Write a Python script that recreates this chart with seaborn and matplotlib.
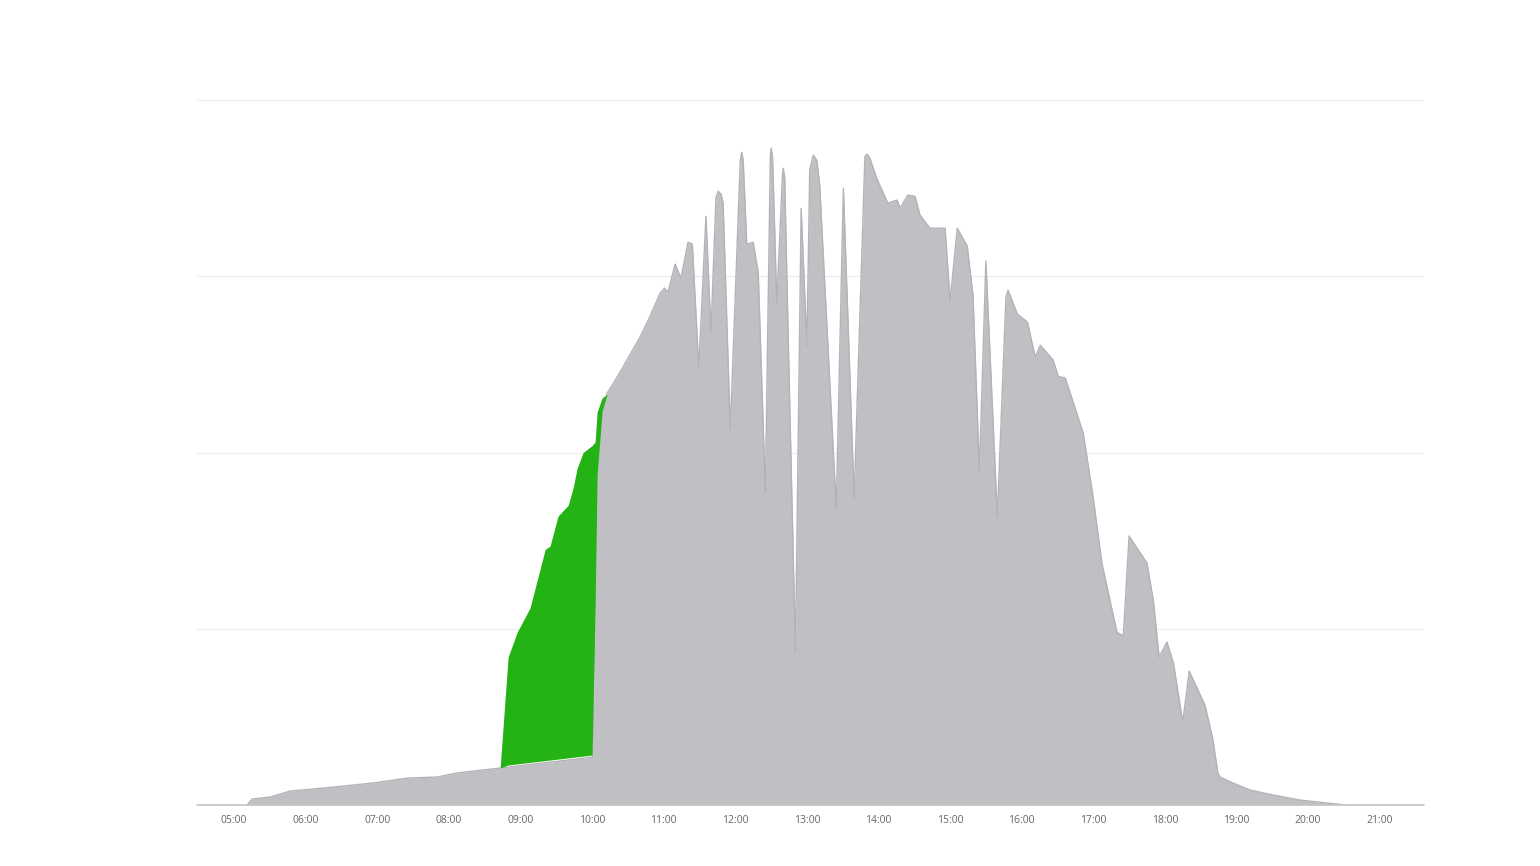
import numpy as np
import pandas as pd
import matplotlib
matplotlib.use("Agg")
import matplotlib.pyplot as plt
import seaborn as sns

# ---- data (hours of day, relative power) ----
grey_hours = [5.18, 5.25, 5.50, 5.78, 6.24, 6.94, 7.42, 7.84, 8.11, 8.72,
              10.01, 10.08, 10.21, 10.35, 10.67, 10.81, 10.95, 11.01, 11.06, 11.16,
              11.24, 11.34, 11.40, 11.49, 11.59, 11.66, 11.73, 11.76, 11.80, 11.83,
              11.93, 12.07, 12.09, 12.11, 12.16, 12.25, 12.32, 12.42, 12.49, 12.50,
              12.52, 12.58, 12.66, 12.67, 12.69, 12.74, 12.84, 12.92, 13.00, 13.04,
              13.09, 13.14, 13.18, 13.41, 13.51, 13.66, 13.81, 13.84, 13.88, 13.98,
              14.13, 14.26, 14.30, 14.41, 14.51, 14.58, 14.72, 14.93, 15.00, 15.10,
              15.24, 15.32, 15.41, 15.50, 15.66, 15.78, 15.81, 15.85, 15.94, 16.08,
              16.19, 16.26, 16.44, 16.51, 16.61, 16.86, 17.00, 17.12, 17.33, 17.42,
              17.50, 17.75, 17.84, 17.92, 18.03, 18.12, 18.25, 18.34, 18.56, 18.67,
              18.74, 18.77, 18.95, 19.19, 19.51, 19.89, 20.27, 20.54]
grey_values = [0.000, 0.034, 0.045, 0.079, 0.096, 0.125, 0.153, 0.159, 0.182, 0.210,
               0.272, 2.127, 2.337, 2.428, 2.655, 2.774, 2.904, 2.932, 2.910, 3.069,
               2.989, 3.193, 3.182, 2.479, 3.341, 2.683, 3.445, 3.483, 3.466, 3.415,
               2.127, 3.660, 3.704, 3.660, 3.182, 3.193, 3.023, 1.781, 3.690, 3.727,
               3.680, 2.847, 3.580, 3.613, 3.560, 2.638, 0.868, 3.386, 2.604, 3.607,
               3.687, 3.656, 3.511, 1.685, 3.500, 1.741, 3.680, 3.693, 3.670, 3.551,
               3.415, 3.432, 3.386, 3.460, 3.454, 3.347, 3.273, 3.273, 2.859, 3.273,
               3.171, 2.893, 1.894, 3.086, 1.634, 2.880, 2.921, 2.880, 2.785, 2.740,
               2.541, 2.609, 2.524, 2.433, 2.422, 2.110, 1.741, 1.373, 0.981, 0.959,
               1.526, 1.373, 1.157, 0.839, 0.925, 0.805, 0.471, 0.760, 0.567, 0.374,
               0.182, 0.159, 0.125, 0.085, 0.057, 0.028, 0.011, 0.000]

green_hours = [8.715, 8.827, 8.953, 9.134, 9.344, 9.413, 9.511, 9.525, 9.665, 9.735,
               9.790, 9.874, 10.000, 10.042, 10.070, 10.140, 10.209]
green_values = [0.21, 0.84, 0.98, 1.12, 1.45, 1.47, 1.62, 1.64, 1.70, 1.80,
                1.91, 2.00, 2.04, 2.06, 2.23, 2.31, 2.33]

tick_hours = list(range(5, 22))
tick_labels = [f"{h:02d}:00" for h in tick_hours]

# ---- figure ----
sns.set_theme(style="white")
plt.rcParams['font.family'] = ['Open Sans', 'DejaVu Sans']

fig = plt.figure(figsize=(15.4, 8.66), dpi=100)
ax = fig.add_axes([0.128, 0.0704, 0.7967, 0.8141])

grey_df = pd.DataFrame({"hour": grey_hours, "value": grey_values})
green_df = pd.DataFrame({"hour": green_hours, "value": green_values})

grey_fill = "#c0c0c4"
ax.fill_between(grey_df["hour"], 0, grey_df["value"], color=grey_fill, lw=0, zorder=2)
sns.lineplot(data=grey_df, x="hour", y="value", ax=ax, color="#b3b3b7", lw=1.0,
             zorder=3, estimator=None, sort=False)

low = np.interp(green_df["hour"], grey_df["hour"], grey_df["value"]) + 0.012
top = green_df["value"].to_numpy()
low = np.minimum(low, top)
ax.fill_between(green_df["hour"], low, top, color="#23b315", lw=0, zorder=4)

# gridlines
for v in [1, 2, 3, 4]:
    ax.axhline(v, color="#ececec", lw=0.8, zorder=1)
ax.axhline(0, color="#c4c4c4", lw=1.2, zorder=5, clip_on=False)

ax.set_xlim(4.483, 21.62)
ax.set_ylim(0, 4)
ax.set_xticks(tick_hours)
ax.set_xticklabels(tick_labels, fontsize=7.5, color="#666666")
ax.tick_params(axis="x", length=0, pad=7)
ax.set_yticks([])
ax.set_xlabel("")
ax.set_ylabel("")
for s in ax.spines.values():
    s.set_visible(False)

fig.savefig("out.png", dpi=100, facecolor="white")
